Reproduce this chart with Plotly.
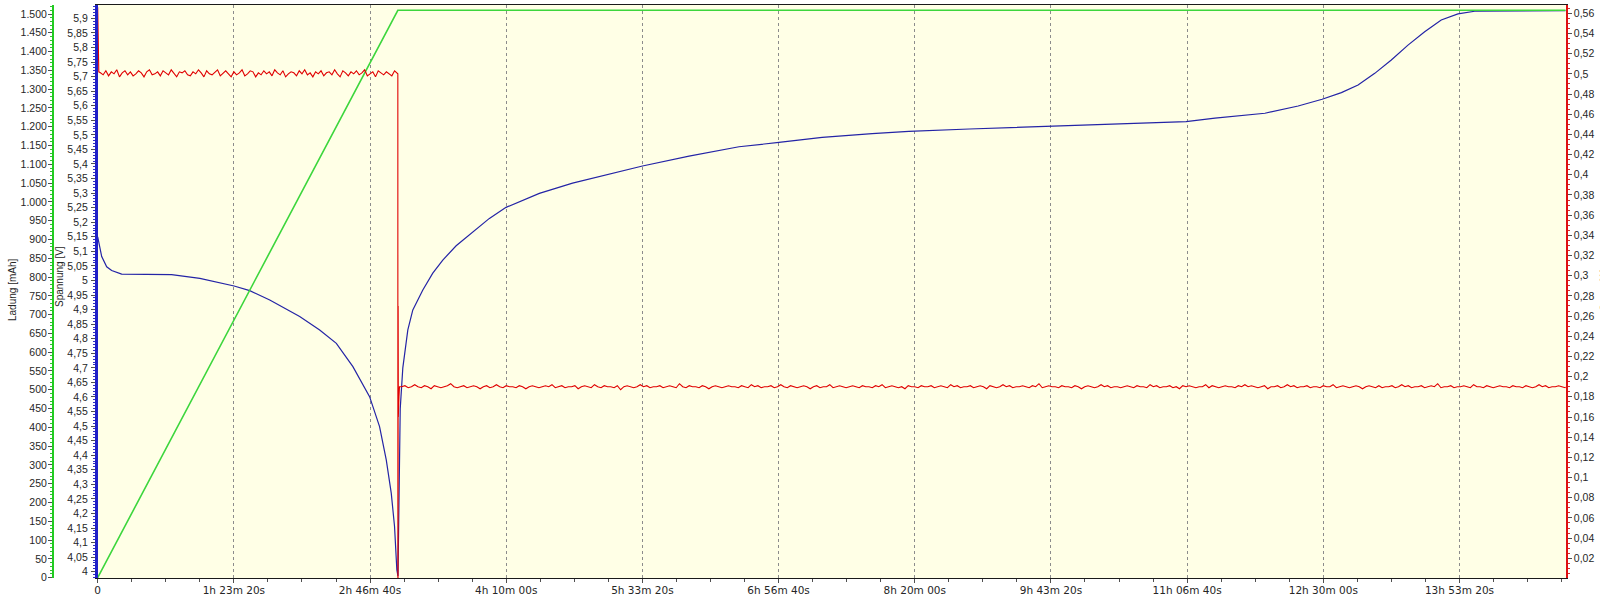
import plotly.graph_objects as go

# ---------------- data ----------------
X_TICK_SECONDS = [0, 5000, 10000, 15000, 20000, 25000, 30000, 35000, 40000, 45000, 50000]
X_TICK_LABELS = ["0", "1h 23m 20s", "2h 46m 40s", "4h 10m 00s", "5h 33m 20s", "6h 56m 40s",
                 "8h 20m 00s", "9h 43m 20s", "11h 06m 40s", "12h 30m 00s", "13h 53m 20s"]

# Spannung [V]
voltage_t = [0, 147, 330, 513, 880, 1800, 2713, 3751, 5008, 5583,
             6317, 7416, 8150, 8762, 9370, 9983, 10349, 10595, 10778, 10899,
             10984, 11025, 11050, 11070, 11090, 11108, 11203, 11387, 11570, 11937,
             12303, 12670, 13161, 13770, 14382, 14994, 16215, 17435, 18660, 20002,
             21712, 23546, 25012, 26600, 28434, 29779, 32000, 35000, 38583, 39960,
             41023, 42856, 44077, 44957, 45664, 46276, 46889, 47497, 48109, 48722,
             49330, 49943, 50614, 53900]
voltage_v = [5.150, 5.082, 5.047, 5.034, 5.022, 5.021, 5.020, 5.007, 4.981, 4.965,
             4.933, 4.876, 4.830, 4.784, 4.704, 4.601, 4.498, 4.384, 4.270, 4.155,
             4.006, 3.985, 4.150, 4.300, 4.450, 4.560, 4.700, 4.830, 4.899, 4.967,
             5.025, 5.070, 5.119, 5.167, 5.213, 5.251, 5.299, 5.334, 5.362, 5.393,
             5.427, 5.459, 5.474, 5.491, 5.504, 5.512, 5.520, 5.530, 5.542, 5.545,
             5.557, 5.574, 5.599, 5.622, 5.645, 5.671, 5.711, 5.757, 5.808, 5.854,
             5.894, 5.915, 5.925, 5.926]

# Ladung [mAh]
charge_t = [0, 11020, 53900]
charge_mah = [0, 1510, 1510]

# Strom [A]
current_start_t = [0, 15, 40]
current_start_a = [0.566, 0.530, 0.502]
PHASE1_T0, PHASE1_DT = 100, 100
current_phase1_ma = [
    501, 499, 503, 498, 502, 500, 504, 497, 501, 503, 499, 502, 498, 500, 503, 501, 497, 502, 504, 499,
    500, 502, 498, 503, 501, 499, 504, 500, 497, 502, 501, 503, 499, 498, 502, 500, 504, 501, 497, 503,
    500, 499, 502, 504, 498, 501, 503, 500, 497, 502, 499, 501, 504, 498, 500, 503, 502, 497, 501, 499,
    503, 500, 502, 498, 504, 501, 499, 503, 497, 500, 502, 501, 498, 503, 500, 504, 499, 501, 497, 502,
    500, 503, 498, 501, 502, 499, 504, 500, 497, 503, 501, 498, 502, 500, 503, 499, 501, 504, 498, 500,
    502, 497, 503, 501, 499, 502, 500, 498, 503, 501]
current_switch_t = [11020, 11022, 11028, 11032, 11038, 11044, 11050, 11056, 11062, 11080]
current_switch_a = [0.500, 0.000, 0.000, 0.270, 0.160, 0.250, 0.170, 0.230, 0.180, 0.190]
PHASE2_T0, PHASE2_DT = 11160, 120
current_phase2_ma = [
    190, 191, 189, 190, 192, 190, 189, 191, 190, 188, 191, 190, 189, 190, 191, 193, 190, 189, 190, 191,
    189, 190, 191, 190, 188, 190, 191, 189, 190, 192, 190, 189, 191, 190, 190, 189, 191, 190, 188, 190,
    191, 190, 189, 190, 191, 190, 192, 189, 190, 191, 189, 190, 190, 191, 188, 190, 191, 190, 189, 192,
    190, 189, 191, 190, 190, 189, 191, 187, 190, 191, 190, 189, 190, 192, 190, 191, 189, 190, 190, 191,
    189, 190, 191, 190, 189, 193, 190, 189, 191, 190, 190, 189, 191, 190, 188, 190, 191, 190, 189, 190,
    191, 190, 190, 189, 191, 190, 189, 192, 190, 191, 189, 190, 190, 191, 189, 190, 192, 190, 189, 191,
    190, 189, 190, 191, 190, 188, 190, 191, 189, 190, 190, 192, 189, 190, 191, 190, 189, 190, 191, 190,
    189, 191, 190, 190, 189, 191, 190, 192, 189, 190, 191, 190, 189, 190, 188, 191, 190, 190, 189, 191,
    190, 190, 191, 189, 190, 191, 190, 189, 192, 190, 191, 189, 190, 190, 191, 189, 190, 191, 190, 188,
    191, 190, 189, 190, 192, 190, 191, 189, 190, 190, 191, 190, 189, 191, 190, 193, 189, 190, 191, 190,
    190, 189, 191, 190, 190, 189, 191, 190, 188, 190, 191, 190, 189, 190, 192, 190, 191, 189, 190, 190,
    189, 190, 191, 190, 189, 191, 190, 190, 189, 192, 190, 191, 189, 190, 190, 191, 189, 190, 188, 191,
    190, 191, 190, 189, 190, 190, 192, 189, 191, 190, 189, 190, 191, 190, 190, 189, 191, 190, 192, 190,
    191, 190, 189, 190, 191, 188, 190, 190, 191, 189, 190, 192, 190, 191, 189, 190, 190, 191, 189, 190,
    190, 189, 191, 190, 190, 192, 189, 190, 191, 190, 189, 190, 191, 190, 188, 190, 191, 190, 189, 191,
    189, 190, 190, 191, 189, 190, 192, 190, 191, 189, 190, 190, 191, 189, 190, 191, 190, 193, 189, 190,
    190, 191, 189, 190, 190, 191, 190, 189, 192, 190, 190, 189, 191, 190, 189, 190, 191, 190, 190, 189,
    191, 190, 190, 189, 191, 190, 189, 190, 192, 190, 191, 189, 190, 190, 191, 190, 189, 191, 190, 190]

VOLT_TICKS = [round(4.0 + 0.05 * i, 2) for i in range(39)]
CHARGE_TICKS = list(range(0, 1501, 50))
CURRENT_TICKS = [round(0.02 * i, 2) for i in range(1, 29)]


def de_num(v, nd):
    s = f"{v:.{nd}f}".rstrip("0").rstrip(".")
    return s.replace(".", ",")


volt_labels = [de_num(v, 2) for v in VOLT_TICKS]
charge_labels = [f"{v:,}".replace(",", ".") for v in CHARGE_TICKS]
current_labels = [de_num(v, 2) for v in CURRENT_TICKS]

# assemble current series
cur_t = list(current_start_t)
cur_a = list(current_start_a)
for i, m in enumerate(current_phase1_ma):
    cur_t.append(PHASE1_T0 + i * PHASE1_DT)
    cur_a.append(m / 1000.0)
cur_t += current_switch_t
cur_a += current_switch_a
for i, m in enumerate(current_phase2_ma):
    cur_t.append(PHASE2_T0 + i * PHASE2_DT)
    cur_a.append(m / 1000.0)

# ---------------- geometry ----------------
W, H = 1600, 601
MT, MB = 5, 23
PLOT_L, PLOT_R = 97.7, 1565.7
PH = H - MT - MB

BLUE = "#2424A6"
RED = "#E00000"
GREEN = "#3DD63D"
TXT = "#262626"
TICKC = "#505050"
FAMILY = "DejaVu Sans, Liberation Sans, Arial, sans-serif"
YFAMILY = "Liberation Sans, Arial, sans-serif"
yfont = dict(family=YFAMILY, size=10.5, color=TXT)

fig = go.Figure()
fig.add_trace(go.Scatter(x=voltage_t, y=voltage_v, mode="lines", yaxis="y",
                         line=dict(color=BLUE, width=1.2), hoverinfo="skip"))
fig.add_trace(go.Scatter(x=charge_t, y=charge_mah, mode="lines", yaxis="y2",
                         line=dict(color=GREEN, width=1.6), hoverinfo="skip"))
fig.add_trace(go.Scatter(x=cur_t, y=cur_a, mode="lines", yaxis="y3",
                         line=dict(color=RED, width=1.1), hoverinfo="skip"))

font = dict(family=FAMILY, size=10.5, color=TXT)

fig.update_layout(
    width=W, height=H,
    margin=dict(l=0, r=0, t=MT, b=MB),
    paper_bgcolor="white",
    plot_bgcolor="#FFFFE6",
    showlegend=False,
    font=font,
    xaxis=dict(
        domain=[PLOT_L / W, PLOT_R / W],
        range=[0, 53900],
        tickmode="array", tickvals=X_TICK_SECONDS, ticktext=X_TICK_LABELS,
        ticks="outside", ticklen=4, tickcolor=TICKC, tickwidth=1,
        ticklabelstandoff=-2,
        showgrid=True, gridcolor="#8c8c8c", gridwidth=1, griddash="3px,3px",
        showline=True, linecolor="#1a1a1a", linewidth=1.2, mirror=True,
        zeroline=False, automargin=False,
        minor=dict(tickmode="linear", tick0=0, dtick=1250, ticks="outside",
                   ticklen=3, tickcolor=TICKC, showgrid=False),
    ),
    yaxis=dict(
        range=[3.9784, 5.9457],
        tickmode="array", tickvals=VOLT_TICKS, ticktext=volt_labels,
        tickfont=yfont,
        ticks="outside", ticklen=4, tickcolor=TICKC,
        ticklabelstandoff=1,
        showline=True, linecolor="#2020C8", linewidth=2.6,
        showgrid=False, zeroline=False, automargin=False,
        minor=dict(tickmode="linear", tick0=4, dtick=0.01, ticks="outside",
                   ticklen=2, tickcolor="#3030C0", showgrid=False),
    ),
    yaxis2=dict(
        overlaying="y", anchor="free", position=53 / W, side="left",
        range=[-1, 1524],
        tickmode="array", tickvals=CHARGE_TICKS, ticktext=charge_labels,
        tickfont=yfont,
        ticks="outside", ticklen=4, tickcolor=TICKC,
        ticklabelstandoff=-1,
        showline=True, linecolor="#22CC22", linewidth=2,
        showgrid=False, zeroline=False, automargin=False,
        minor=dict(tickmode="linear", tick0=0, dtick=10, ticks="outside",
                   ticklen=2, tickcolor="#30C030", showgrid=False),
    ),
    yaxis3=dict(
        overlaying="y", anchor="x", side="right",
        range=[0.00048, 0.5682],
        tickmode="array", tickvals=CURRENT_TICKS, ticktext=current_labels,
        tickfont=yfont,
        ticks="outside", ticklen=4, tickcolor=TICKC,
        ticklabelstandoff=0,
        showline=True, linecolor="#E01010", linewidth=2,
        showgrid=False, zeroline=False, automargin=False,
        minor=dict(tickmode="linear", tick0=0, dtick=0.005, ticks="outside",
                   ticklen=2, tickcolor="#D03030", showgrid=False),
    ),
)


def py(ypx):
    return (H - MB - ypx) / PH


fig.add_annotation(text="Ladung [mAh]", x=12 / W, y=py(290), xref="paper", yref="paper",
                   textangle=-90, showarrow=False, xanchor="center", yanchor="middle",
                   font=dict(family=YFAMILY, size=10, color=TXT))
fig.add_annotation(text="Spannung [V]", x=59 / W, y=py(277), xref="paper", yref="paper",
                   textangle=-90, showarrow=False, xanchor="center", yanchor="middle",
                   font=dict(family=YFAMILY, size=10, color=TXT))
fig.add_annotation(text="Strom [A]", x=1604 / W, y=py(290), xref="paper", yref="paper",
                   textangle=-90, showarrow=False, xanchor="center", yanchor="middle",
                   font=dict(family=YFAMILY, size=10, color=TXT))

fig.write_html(
    "out.html",
    config={"displayModeBar": False},
    post_script="document.body.style.margin='0';document.body.style.padding='0';"
                "document.documentElement.style.overflow='hidden';",
)
